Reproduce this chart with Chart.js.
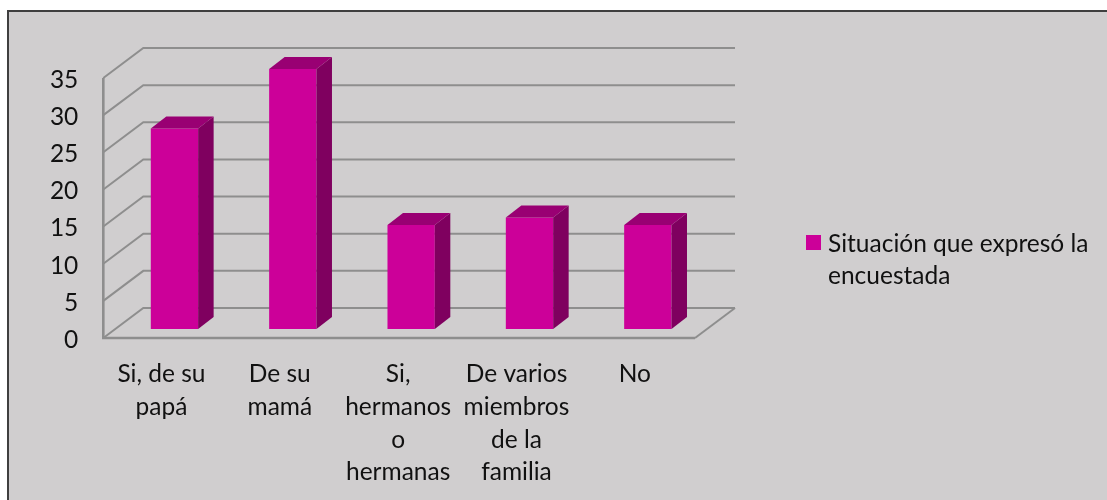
<!DOCTYPE html>
<html lang="es">
<head>
<meta charset="utf-8">
<title>Situación que expresó la encuestada</title>
<script src="https://cdn.jsdelivr.net/npm/chart.js@4/dist/chart.umd.min.js"></script>
<style>
  html, body { margin: 0; padding: 0; background: #fff; overflow: hidden; }
  #marco {
    position: absolute; left: 7px; top: 10px; width: 1100px; height: 490px;
    background: #d0cecf; border-left: 2px solid #3f3f3f; border-top: 2px solid #3f3f3f;
    box-sizing: border-box;
  }
  #lienzo { position: absolute; left: 0; top: 0; }
  #leyenda {
    position: absolute; left: 828px; top: 227px; width: 270px;
    font: 24.5px/32px Lato, sans-serif; color: #111;
  }
  #leyenda i {
    position: absolute; left: -22px; top: 8px; width: 15px; height: 15px;
  }
</style>
</head>
<body>
<div id="marco"></div>
<canvas id="lienzo" width="1107" height="500"></canvas>
<div id="leyenda"></div>
<script>
const categorias = [
  ['Si, de su', 'papá'],
  ['De su', 'mamá'],
  ['Si,', 'hermanos', 'o', 'hermanas'],
  ['De varios', 'miembros', 'de la', 'familia'],
  'No'
];
const valores = [27, 35, 14, 15, 14];
const nombreSerie = 'Situación que expresó la encuestada';
const colorFrente = '#cc0099';
const colorLado = '#7f005f';
const colorTapa = '#990073';
const colorRejilla = '#8e8e8e';

// Paredes y suelo en perspectiva, a partir de las marcas del eje Y
const rejilla3d = {
  id: 'rejilla3d',
  beforeDatasetsDraw(chart) {
    const { ctx, scales: { y }, chartArea: area } = chart;
    const xFrente = area.left - 12, xFondo = area.left + 28;
    const xFinFrente = area.right - 12, xFinFondo = area.right + 28;
    ctx.save();
    ctx.strokeStyle = colorRejilla;
    ctx.lineWidth = 2;
    y.ticks.forEach(t => {
      const p = y.getPixelForValue(t.value);
      ctx.beginPath();
      ctx.moveTo(xFrente, p + 9);
      ctx.lineTo(xFondo, p - 21);
      ctx.lineTo(xFinFondo, p - 21);
      ctx.stroke();
    });
    const base = y.getPixelForValue(0);
    ctx.beginPath();
    ctx.moveTo(xFinFondo, base - 21);
    ctx.lineTo(xFinFrente, base + 9);
    ctx.stroke();
    // El eje delantero es algo más grueso
    ctx.lineWidth = 2.6;
    ctx.beginPath();
    ctx.moveTo(xFrente, y.getPixelForValue(35) + 9);
    ctx.lineTo(xFrente, base + 9);
    ctx.lineTo(xFinFrente, base + 9);
    ctx.stroke();
    ctx.restore();
  }
};

// Cara lateral y tapa de cada barra
const barras3d = {
  id: 'barras3d',
  afterDatasetsDraw(chart) {
    const { ctx } = chart;
    const dx = 15.5, dy = 12;
    ctx.save();
    chart.getDatasetMeta(0).data.forEach(b => {
      const izq = b.x - b.width / 2, der = b.x + b.width / 2;
      ctx.fillStyle = colorLado;
      ctx.beginPath();
      ctx.moveTo(der, b.y);
      ctx.lineTo(der + dx, b.y - dy);
      ctx.lineTo(der + dx, b.base - dy);
      ctx.lineTo(der, b.base);
      ctx.fill();
      ctx.fillStyle = colorTapa;
      ctx.beginPath();
      ctx.moveTo(izq, b.y);
      ctx.lineTo(izq + dx, b.y - dy);
      ctx.lineTo(der + dx, b.y - dy);
      ctx.lineTo(der, b.y);
      ctx.fill();
    });
    ctx.restore();
  }
};

const grafico = new Chart(document.getElementById('lienzo'), {
  type: 'bar',
  data: {
    labels: categorias,
    datasets: [{
      label: nombreSerie,
      data: valores,
      backgroundColor: colorFrente,
      categoryPercentage: 1,
      barPercentage: 0.4
    }]
  },
  options: {
    responsive: false,
    animation: false,
    layout: { padding: { top: 69, right: 400, left: 0, bottom: 0 } },
    plugins: { legend: { display: false }, tooltip: { enabled: false } },
    scales: {
      x: {
        grid: { display: false },
        border: { display: false },
        afterFit(s) { s.height = 171; },
        ticks: {
          autoSkip: false, maxRotation: 0, minRotation: 0,
          labelOffset: -13, padding: 21, color: '#111',
          font: { family: 'Lato', size: 24.5, lineHeight: 1.335 }
        }
      },
      y: {
        min: 0, max: 35,
        grid: { display: false },
        border: { display: false },
        afterFit(s) { s.width = 115.3; },
        ticks: {
          stepSize: 5, padding: 29, labelOffset: 11, color: '#111',
          font: { family: 'Lato', size: 24.5 }
        }
      }
    }
  },
  plugins: [rejilla3d, barras3d]
});

// Leyenda en HTML porque el texto ocupa dos líneas
const leyenda = document.getElementById('leyenda');
const serie = grafico.data.datasets[0];
leyenda.innerHTML = `<i style="background:${serie.backgroundColor}"></i>${serie.label}`;
</script>
</body>
</html>
